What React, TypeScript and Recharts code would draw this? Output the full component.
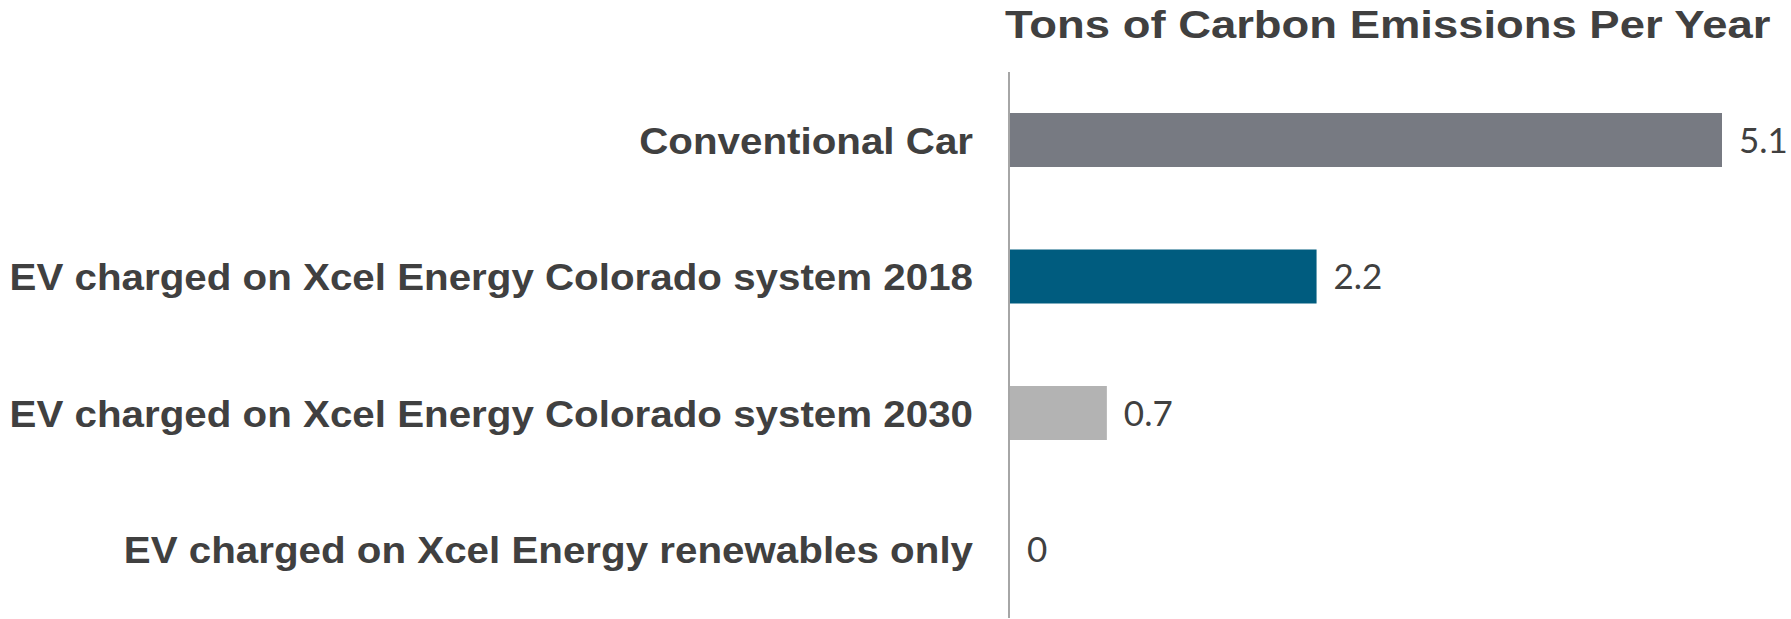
import React from "react";
import { BarChart, Bar, XAxis, YAxis, Cell, LabelList } from "recharts";

const categories = [
  "Conventional Car",
  "EV charged on Xcel Energy Colorado system 2018",
  "EV charged on Xcel Energy Colorado system 2030",
  "EV charged on Xcel Energy renewables only",
];
const emissions = [5.1, 2.2, 0.7, 0];
const barColors = ["#777a82", "#005c7f", "#b3b3b3", "#b3b3b3"];

const data = categories.map((name, i) => ({ name, value: emissions[i] }));

function CategoryTick(props: any) {
  const { x, y, payload } = props;
  return (
    <text
      transform={`translate(${x},${y}) scale(1.09,1)`}
      textAnchor="end"
      dy="0.36em"
      fill="#404040"
      fontFamily="'Liberation Sans', Arial, sans-serif"
      fontWeight="bold"
      fontSize={37}
    >
      {payload.value}
    </text>
  );
}

function ValueLabel(props: any) {
  const { x, y, width, height, value } = props;
  return (
    <text
      x={Number(x) + Number(width || 0) + 17}
      y={Number(y) + Number(height) / 2}
      dy="0.36em"
      fill="#404040"
      fontFamily="Lato, 'Open Sans', sans-serif"
      fontSize={35}
    >
      {value}
    </text>
  );
}

export default function App() {
  return (
    <div style={{ position: "absolute", left: 0, top: 0, width: 1791, height: 619, background: "#fff" }}>
      <svg width={1791} height={619} style={{ position: "absolute", left: 0, top: 0, pointerEvents: "none" }}>
        <text
          transform="translate(1005,38) scale(1.195,1)"
          fill="#404040"
          fontFamily="'Liberation Sans', Arial, sans-serif"
          fontWeight="bold"
          fontSize={38}
        >
          Tons of Carbon Emissions Per Year
        </text>
      </svg>
      <BarChart
        width={1791}
        height={619}
        data={data}
        layout="vertical"
        margin={{ top: 72, right: 69, bottom: 1, left: 0 }}
      >
        <XAxis type="number" domain={[0, 5.1]} hide />
        <YAxis
          type="category"
          dataKey="name"
          width={1009}
          axisLine={{ stroke: "#a6a6a6", strokeWidth: 2 }}
          tickLine={false}
          tickSize={0}
          tickMargin={36}
          interval={0}
          tick={<CategoryTick />}
        />
        <Bar dataKey="value" barSize={54} minPointSize={1} isAnimationActive={false}>
          {data.map((d, i) => (
            <Cell key={d.name} fill={barColors[i]} fillOpacity={d.value === 0 ? 0 : 1} />
          ))}
          <LabelList dataKey="value" content={<ValueLabel />} />
        </Bar>
      </BarChart>
    </div>
  );
}
